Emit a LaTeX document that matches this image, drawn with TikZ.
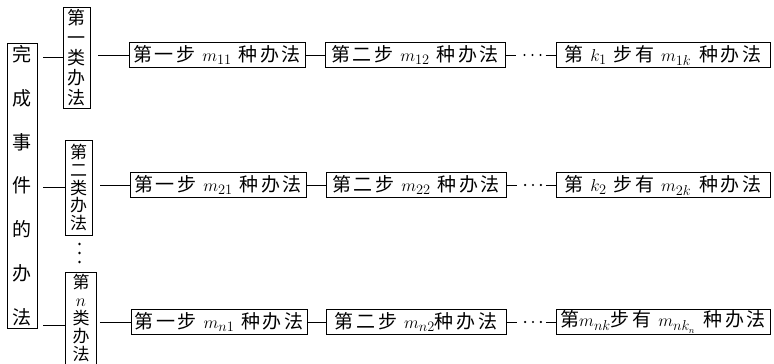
\documentclass[tikz,border=0pt]{standalone}
\usepackage{fontspec}
\newfontfamily\cjk{Noto Sans CJK SC}
\newfontfamily\cjksp[LetterSpace=14]{Noto Sans CJK SC}
\usetikzlibrary{calc}
\tikzset{
  ln/.style={line width=0.8pt},
  vbox/.style={draw, line width=0.8pt, inner sep=0pt, align=center},
  stepbox/.style={draw, line width=0.8pt, inner sep=0pt, minimum height=25pt,
    font=\cjksp\fontsize{19}{21}\selectfont},
  dotf/.style={fill=black},
}
\begin{document}
\begin{tikzpicture}[x=1pt,y=-1pt]
\useasboundingbox (0,0) rectangle (774,364);
\clip (0,0) rectangle (774,364);
\fill[white] (0,0) rectangle (774,364);
% left box
\node (lb)[vbox, minimum width=30pt, minimum height=285pt,
  font=\cjk\fontsize{19}{43.8}\selectfont] at (22,185.5)
  {完\\成\\事\\件\\的\\办\\法};
% class boxes
\node (c1)[vbox, minimum width=27pt, minimum height=101pt,
  font=\cjk\fontsize{18}{20}\selectfont] at (76.5,57.5)
  {第\\一\\类\\办\\法};
\node (c2)[vbox, minimum width=27pt, minimum height=95pt,
  font=\cjk\fontsize{17}{17.8}\selectfont] at (78.5,187.5)
  {第\\二\\类\\办\\法};
\node (cn)[vbox, minimum width=31pt, minimum height=110pt, anchor=north] at (81,272) {};
\node (cnt)[anchor=north, align=center, inner sep=0pt,
  font=\cjk\fontsize{17}{18}\selectfont] at ([yshift=-2pt]cn.north)
  {第\\$n$\\类\\办\\法};
\foreach \yy in {244,253,262} \fill[dotf] (79.5,\yy) circle (1.3pt);
% step boxes row 1
\node (s11)[stepbox, minimum width=176pt] at (217,55) {第一步 $m_{11}$ 种办法};
\node (s12)[stepbox, minimum width=180pt] at (415,55) {第二步 $m_{12}$ 种办法};
\node (s13)[stepbox, minimum width=214pt] at (663,55) {第 $k_1$ 步有 $m_{1k}$\hspace{8pt}种办法};
% row 2
\node (s21)[stepbox, minimum width=176pt] at (218,185) {第一步 $m_{21}$ 种办法};
\node (s22)[stepbox, minimum width=180pt] at (416,185) {第二步 $m_{22}$ 种办法};
\node (s23)[stepbox, minimum width=214pt] at (663,185) {第 $k_2$ 步有 $m_{2k}$\hspace{8pt}种办法};
% row 3
\node (s31)[stepbox, minimum width=176pt] at (219,322) {第一步 $m_{n1}$ 种办法};
\node (s32)[stepbox, minimum width=180pt] at (416,322) {第二步 $m_{n2}$种办法};
\node (s33)[stepbox, minimum width=214pt] at (663,322) {第$m_{nk}$步有 $m_{nk_n}$\hspace{8pt}种办法};
% connectors left box -> classes
\draw[ln, shorten <=6pt] (lb.east |- c1.west) -- (c1.west);
\draw[ln, shorten <=6pt] (lb.east |- c2.west) -- (c2.west);
\draw[ln, shorten <=6pt] ([yshift=-3pt]lb.east |- s31.west) -- ([yshift=-3pt]cn.west |- s31.west);
% classes -> first steps
\draw[ln, shorten <=8pt] (c1.east |- s11.west) -- (s11.west);
\draw[ln, shorten <=8pt] (c2.east |- s21.west) -- (s21.west);
\draw[ln, shorten <=3pt] (cn.east |- s31.west) -- (s31.west);
% step -> step
\foreach \r in {1,2,3}{
  \draw[ln] (s\r1.east) -- (s\r2.west);
  \draw[ln] (s\r2.east) -- ($(s\r2.east)!0.22!(s\r3.west)$);
  \draw[ln] ($(s\r2.east)!0.8!(s\r3.west)$) -- (s\r3.west);
  \foreach \f in {0.38,0.54,0.70}
    \fill[dotf] ($(s\r2.east)!\f!(s\r3.west)$) circle (1.2pt);
}
\end{tikzpicture}
\end{document}
